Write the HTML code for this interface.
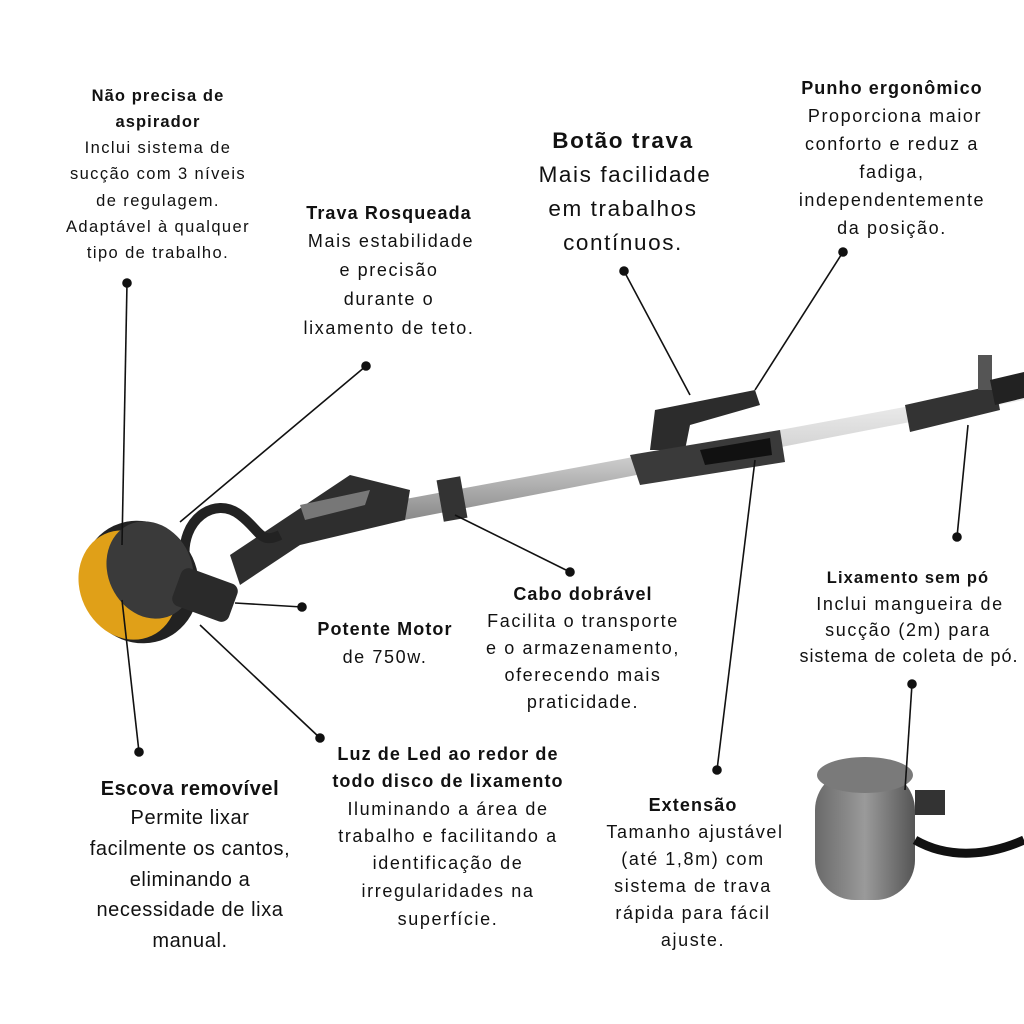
<!DOCTYPE html>
<html><head><meta charset="utf-8"><style>
body{margin:0;background:#fff;}
svg{display:block}
text{font-family:"Liberation Sans",sans-serif;fill:#111;text-anchor:middle}
.b{font-weight:bold}
.s{font-size:16.5px;letter-spacing:1.4px}
.m{font-size:18px;letter-spacing:1.6px}
.l{font-size:22.5px;letter-spacing:1.6px}
.e{font-size:20px;letter-spacing:0.6px}
.b.m,.b.s{letter-spacing:1.1px}
</style></head><body>
<svg width="1024" height="1024" viewBox="0 0 1024 1024">
<defs>
<linearGradient id="pole" x1="0" y1="0" x2="0" y2="1"><stop offset="0" stop-color="#f4f4f4"/><stop offset="0.5" stop-color="#d2d2d2"/><stop offset="1" stop-color="#8a8a8a"/></linearGradient>
<linearGradient id="bag" x1="0" y1="0" x2="1" y2="0"><stop offset="0" stop-color="#6a6a6a"/><stop offset="0.5" stop-color="#9a9a9a"/><stop offset="1" stop-color="#555"/></linearGradient>
</defs>
<polygon points="400,500 1024,385 1024,400 404,520" fill="url(#pole)"/>
<polygon points="905,405 995,385 1000,410 910,432" fill="#333"/>
<rect x="978" y="355" width="14" height="35" fill="#555"/>
<polygon points="990,380 1024,372 1024,398 995,405" fill="#222"/>
<polygon points="655,410 755,390 760,405 690,425 685,450 650,450" fill="#2c2c2c"/>
<polygon points="630,455 780,430 785,462 640,485" fill="#3a3a3a"/>
<polygon points="700,450 770,438 772,455 705,465" fill="#111"/>
<rect x="440" y="478" width="24" height="42" fill="#333" transform="rotate(-10 452 499)"/>
<polygon points="230,555 350,475 410,490 405,520 300,545 240,585" fill="#2e2e2e"/>
<polygon points="300,505 370,490 365,505 305,520" fill="#777"/>
<path d="M185,560 C180,520 215,495 240,515 C260,530 260,545 280,535" stroke="#222" stroke-width="10" fill="none"/>
<ellipse cx="140" cy="582" rx="58" ry="62" transform="rotate(-25 140 582)" fill="#222"/>
<ellipse cx="128" cy="585" rx="48" ry="56" transform="rotate(-25 128 585)" fill="#e0a018"/>
<ellipse cx="150" cy="570" rx="42" ry="50" transform="rotate(-25 150 570)" fill="#3a3a3a"/>
<rect x="175" y="575" width="60" height="40" rx="8" fill="#2a2a2a" transform="rotate(20 205 595)"/>
<rect x="815" y="770" width="100" height="130" rx="40" fill="url(#bag)"/>
<ellipse cx="865" cy="775" rx="48" ry="18" fill="#7a7a7a"/>
<path d="M915,840 C950,860 990,855 1024,840" stroke="#111" stroke-width="9" fill="none"/>
<rect x="915" y="790" width="30" height="25" fill="#333"/>
<g stroke="#111" stroke-width="1.6" fill="#111">
<line x1="127" y1="283" x2="122" y2="545"/><circle cx="127" cy="283" r="4"/>
<line x1="366" y1="366" x2="180" y2="522"/><circle cx="366" cy="366" r="4"/>
<line x1="624" y1="271" x2="690" y2="395"/><circle cx="624" cy="271" r="4"/>
<line x1="843" y1="252" x2="755" y2="390"/><circle cx="843" cy="252" r="4"/>
<line x1="302" y1="607" x2="235" y2="603"/><circle cx="302" cy="607" r="4"/>
<line x1="570" y1="572" x2="455" y2="515"/><circle cx="570" cy="572" r="4"/>
<line x1="957" y1="537" x2="968" y2="425"/><circle cx="957" cy="537" r="4"/>
<line x1="912" y1="684" x2="905" y2="790"/><circle cx="912" cy="684" r="4"/>
<line x1="320" y1="738" x2="200" y2="625"/><circle cx="320" cy="738" r="4"/>
<line x1="139" y1="752" x2="122" y2="600"/><circle cx="139" cy="752" r="4"/>
<line x1="717" y1="770" x2="755" y2="460"/><circle cx="717" cy="770" r="4"/>
</g>
<text class="b s" x="158" y="101">Não precisa de</text>
<text class="b s" x="158" y="127">aspirador</text>
<text class="s" x="158" y="153">Inclui sistema de</text>
<text class="s" x="158" y="179">sucção com 3 níveis</text>
<text class="s" x="158" y="206">de regulagem.</text>
<text class="s" x="158" y="232">Adaptável à qualquer</text>
<text class="s" x="158" y="258">tipo de trabalho.</text>

<text class="b m" x="389" y="219">Trava Rosqueada</text>
<text class="m" x="391" y="247">Mais estabilidade</text>
<text class="m" x="389" y="276">e precisão</text>
<text class="m" x="389" y="305">durante o</text>
<text class="m" x="389" y="334">lixamento de teto.</text>

<text class="b l" x="623" y="148">Botão trava</text>
<text class="l" x="625" y="182">Mais facilidade</text>
<text class="l" x="623" y="216">em trabalhos</text>
<text class="l" x="623" y="250">contínuos.</text>

<text class="b m" x="892" y="94">Punho ergonômico</text>
<text class="m" x="895" y="122">Proporciona maior</text>
<text class="m" x="892" y="150">conforto e reduz a</text>
<text class="m" x="892" y="178">fadiga,</text>
<text class="m" x="892" y="206">independentemente</text>
<text class="m" x="892" y="234">da posição.</text>

<text class="b m" x="385" y="635">Potente Motor</text>
<text class="m" x="385" y="663">de 750w.</text>

<text class="b m" x="583" y="600">Cabo dobrável</text>
<text class="m" x="583" y="627">Facilita o transporte</text>
<text class="m" x="583" y="654">e o armazenamento,</text>
<text class="m" x="583" y="681">oferecendo mais</text>
<text class="m" x="583" y="708">praticidade.</text>

<text class="b s" x="908" y="583">Lixamento sem pó</text>
<text class="m" x="910" y="610">Inclui mangueira de</text>
<text class="m" x="908" y="636">sucção (2m) para</text>
<text class="m" x="909" y="662" style="letter-spacing:1px">sistema de coleta de pó.</text>

<text class="b m" x="448" y="760">Luz de Led ao redor de</text>
<text class="b m" x="448" y="787">todo disco de lixamento</text>
<text class="m" x="448" y="815">Iluminando a área de</text>
<text class="m" x="448" y="842">trabalho e facilitando a</text>
<text class="m" x="448" y="869">identificação de</text>
<text class="m" x="448" y="897">irregularidades na</text>
<text class="m" x="448" y="925">superfície.</text>

<text class="b e" x="190" y="795">Escova removível</text>
<text class="e" x="190" y="824">Permite lixar</text>
<text class="e" x="190" y="855">facilmente os cantos,</text>
<text class="e" x="190" y="886">eliminando a</text>
<text class="e" x="190" y="916">necessidade de lixa</text>
<text class="e" x="190" y="947">manual.</text>

<text class="b m" x="693" y="811">Extensão</text>
<text class="m" x="695" y="838">Tamanho ajustável</text>
<text class="m" x="693" y="865">(até 1,8m) com</text>
<text class="m" x="693" y="892">sistema de trava</text>
<text class="m" x="693" y="919">rápida para fácil</text>
<text class="m" x="693" y="946">ajuste.</text>
</svg>
</body></html>
